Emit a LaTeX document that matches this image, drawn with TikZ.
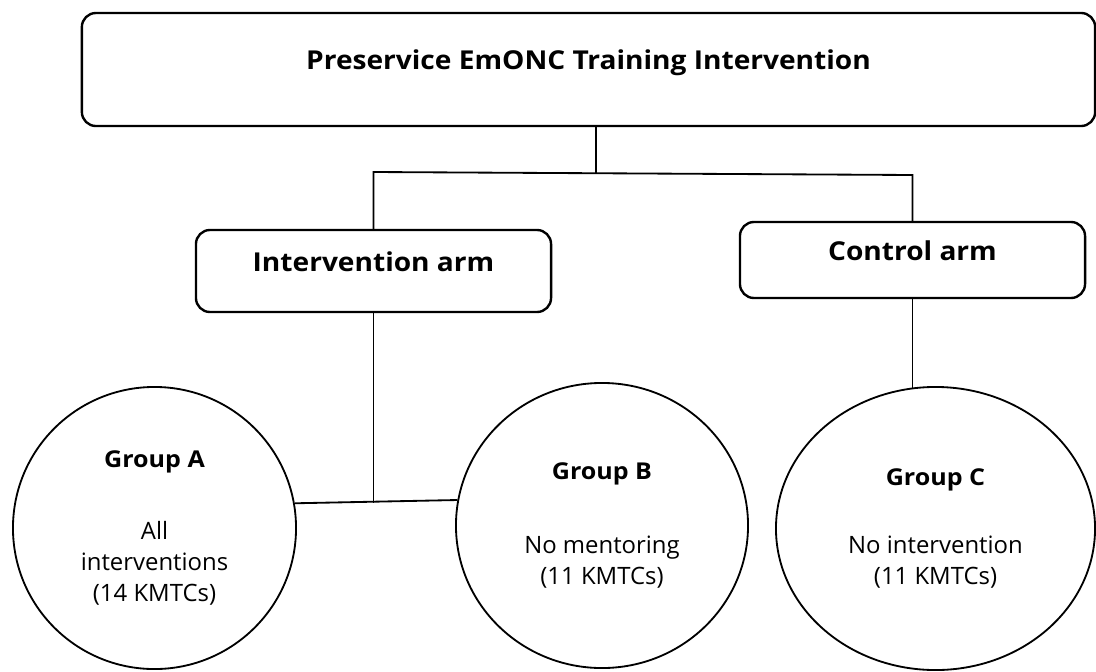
\documentclass[tikz,border=0pt]{standalone}
\usepackage{fontspec}
\setmainfont{Open Sans}[BoldFeatures={FakeStretch=1.08}]
\usetikzlibrary{shapes.geometric}

\begin{document}
\begin{tikzpicture}[
    x=0.025cm, y=-0.025cm,
    box/.style={rectangle, draw, line width=1.7pt, rounded corners=0.35cm, align=center,
        font=\bfseries\fontsize{18.5}{22}\selectfont, text height=1.5ex, text depth=1.5ex},
    group/.style={ellipse, draw, line width=1.3pt, align=center, inner sep=0pt,
        font=\fontsize{17}{22}\selectfont},
    link/.style={line width=1.3pt}
]
    \useasboundingbox (0,0) rectangle (1096,671);

    \node[box, minimum width=25.325cm, minimum height=2.825cm] (train) at (588.5,69.5) {Preservice EmONC Training Intervention};
    \node[box, minimum width=8.875cm, minimum height=2.05cm] (intarm) at (373.5,271) {Intervention arm};
    \node[box, minimum width=8.625cm, minimum height=1.9cm] (ctrlarm) at (912.5,260) {Control arm};

    \node[group, minimum width=7.075cm, minimum height=7.05cm] (grpA) at (154.5,528)
        {{\bfseries\fontsize{16.5}{19}\selectfont Group A}\\[29pt] All\\ interventions\\ (14 KMTCs)};
    \node[group, minimum width=7.3cm, minimum height=7.125cm] (grpB) at (602,525.5)
        {{\bfseries\fontsize{16.5}{19}\selectfont Group B}\\[31pt] No mentoring\\ (11 KMTCs)};
    \node[group, minimum width=7.975cm, minimum height=7.075cm] (grpC) at (935.5,528.5)
        {{\bfseries\fontsize{16.5}{19}\selectfont Group C}\\[26pt] No intervention\\ (11 KMTCs)};

    % tree of connectors
    \coordinate (hub) at (596,173.5);
    \draw[link] (train.south -| hub) -- (hub);
    \draw[link] (intarm.north) -- (intarm.north |- 0,172) -- (ctrlarm.north |- 0,175) -- (ctrlarm.north);
    \draw[link] (intarm.south) -- (intarm.south |- grpA.10);
    \draw[link] (grpA.10) -- (grpB.170);
    \draw[link] (ctrlarm.south) -- (ctrlarm.south |- grpC.100);
\end{tikzpicture}
\end{document}
